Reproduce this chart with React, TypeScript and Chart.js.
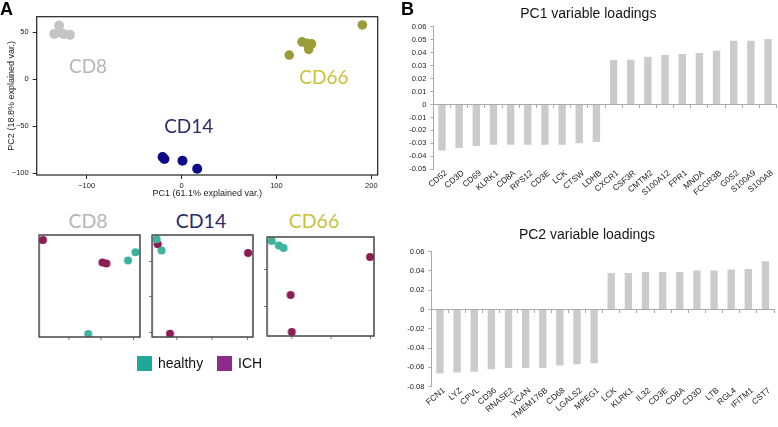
import React, { useEffect, useRef } from 'react';
import { Chart, registerables } from 'chart.js';
Chart.register(...registerables);

// ---------- Panel A: main PCA ----------
const cd8PC1 = [-129, -134, -124.5, -117.5, -129];
const cd8PC2 = [57, 48, 48, 47, 50];
const cd14PC1 = [-20, -18, 1, 16.5];
const cd14PC2 = [-83, -85, -87, -95.5];
const cd66PC1 = [113.5, 127, 132, 134, 137, 190.5];
const cd66PC2 = [25.5, 39.5, 38, 31.5, 37.5, 57.5];
const pcaXTicks = [-100, 0, 100, 200];
const pcaYTicks = [-100, -50, 0, 50];
const groupNames = ['CD8', 'CD14', 'CD66'];
const groupLabelPC1 = [-98.5, 7.6, 150];
const groupLabelPC2 = [12.8, -51.4, 1.6];

// ---------- Panel A: per-cell-type sub PCAs ----------
const cd8HealthyX = [0.82, 1.05, -0.41];
const cd8HealthyY = [0.75, 0.83, 0.03];
const cd8IchX = [-1.81, 0.03, 0.15];
const cd8IchY = [0.95, 0.73, 0.72];
const cd8XTicks = [-1, 0, 1];
const cd8YTicks: number[] = [];

const cd14HealthyX = [-0.57, -0.43];
const cd14HealthyY = [2.61, 2.3];
const cd14IchX = [-0.54, 2.03, -0.19];
const cd14IchY = [2.47, 2.23, -0.03];
const cd14XTicks = [0, 1, 2];
const cd14YTicks = [0, 1, 2];

const cd66HealthyX = [-0.51, -0.33, -0.21];
const cd66HealthyY = [1.78, 1.66, 1.59];
const cd66IchX = [2.0, -0.03, 0];
const cd66IchY = [1.34, 0.3, -0.71];
const cd66XTicks = [0, 1, 2];
const cd66YTicks = [0, 1];

const legendLabels = ['healthy', 'ICH'];

// ---------- Panel B: loadings ----------
const pc1Genes = ['CD52', 'CD3D', 'CD69', 'KLRK1', 'CD8A', 'RPS12', 'CD3E', 'LCK', 'CTSW', 'LDHB', 'CXCR1', 'CSF3R', 'CMTM2', 'S100A12', 'FPR1', 'MNDA', 'FCGR3B', 'G0S2', 'S100A9', 'S100A8'];
const pc1Loadings = [-0.0355, -0.0335, -0.032, -0.031, -0.031, -0.031, -0.031, -0.031, -0.030, -0.029, 0.0344, 0.0346, 0.0369, 0.0382, 0.039, 0.0397, 0.0415, 0.0492, 0.0492, 0.0505];
const pc2Genes = ['FCN1', 'LYZ', 'CPVL', 'CD36', 'RNASE2', 'VCAN', 'TMEM176B', 'CD68', 'LGALS2', 'MPEG1', 'LCK', 'KLRK1', 'IL32', 'CD3E', 'CD8A', 'CD3D', 'LTB', 'RGL4', 'IFITM1', 'CST7'];
const pc2Loadings = [-0.0663, -0.0653, -0.0646, -0.062, -0.0605, -0.0605, -0.0605, -0.058, -0.0568, -0.0558, 0.038, 0.038, 0.039, 0.039, 0.039, 0.0405, 0.0405, 0.0415, 0.042, 0.050];

const SANS = 'Liberation Sans';
const LABEL_FONT = 'Lato';
const groupColors = ['#b5b5b5', '#2b2b6e', '#c9c23d'];
const pointColors = ['#c4c4c4', '#0b0b8a', '#9d9b37'];
const healthyColor = '#3cb39f';
const ichColor = '#8b1d52';

const framePlugin = {
  id: 'frame',
  afterDraw(chart: any, _args: any, opts: any) {
    if (!opts || !opts.color) return;
    const { ctx, chartArea: a } = chart;
    ctx.save();
    ctx.strokeStyle = opts.color;
    ctx.lineWidth = opts.width || 1;
    ctx.strokeRect(a.left, a.top, a.right - a.left, a.bottom - a.top);
    ctx.restore();
  },
};

const groupLabelPlugin = {
  id: 'groupLabels',
  afterDatasetsDraw(chart: any) {
    const { ctx, scales } = chart;
    ctx.save();
    ctx.font = `19px ${LABEL_FONT}`;
    ctx.textAlign = 'center';
    ctx.textBaseline = 'middle';
    groupNames.forEach((t, i) => {
      ctx.fillStyle = groupColors[i];
      ctx.fillText(t, scales.x.getPixelForValue(groupLabelPC1[i]), scales.y.getPixelForValue(groupLabelPC2[i]));
    });
    ctx.restore();
  },
};

const minus = (v: any) => String(v).replace('-', '\u2212');

function mainConfig(): any {
  const pts = (xs: number[], ys: number[]) => xs.map((x, i) => ({ x, y: ys[i] }));
  const tickFont = { family: SANS, size: 7.5 };
  return {
    type: 'scatter',
    data: {
      datasets: [
        { label: 'CD8', data: pts(cd8PC1, cd8PC2), backgroundColor: pointColors[0], pointRadius: 5, borderWidth: 0 },
        { label: 'CD14', data: pts(cd14PC1, cd14PC2), backgroundColor: pointColors[1], pointRadius: 5, borderWidth: 0 },
        { label: 'CD66', data: pts(cd66PC1, cd66PC2), backgroundColor: pointColors[2], pointRadius: 4.8, borderWidth: 0 },
      ],
    },
    options: {
      animation: false,
      responsive: false,
      layout: { padding: { top: 16.7, right: 12.3, left: 0, bottom: 0 } },
      plugins: { legend: { display: false }, tooltip: { enabled: false }, frame: { color: '#222', width: 1.2 } },
      scales: {
        x: {
          type: 'linear', min: -152.6, max: 206.7,
          afterBuildTicks: (a: any) => { a.ticks = pcaXTicks.map((v) => ({ value: v })); },
          ticks: { color: '#222', font: tickFont, padding: 2, callback: minus },
          grid: { drawOnChartArea: false, tickLength: 4, color: '#222' },
          border: { display: false },
          title: { display: true, text: 'PC1 (61.1% explained var.)', color: '#222', font: { family: SANS, size: 9 }, padding: { top: 0, bottom: 5.6 } },
          afterFit: (s: any) => { s.height = 30; },
        },
        y: {
          type: 'linear', min: -102.1, max: 66.3,
          afterBuildTicks: (a: any) => { a.ticks = pcaYTicks.map((v) => ({ value: v })); },
          ticks: { color: '#222', font: tickFont, padding: 4, callback: minus },
          grid: { drawOnChartArea: false, tickLength: 4, color: '#222' },
          border: { display: false },
          title: { display: true, text: 'PC2 (18.8% explained var.)', color: '#222', font: { family: SANS, size: 9 }, padding: { top: 6.6, bottom: 0 } },
          afterFit: (s: any) => { s.width = 36.7; },
        },
      },
    },
    plugins: [framePlugin, groupLabelPlugin],
  };
}

function subConfig(hx: number[], hy: number[], ix: number[], iy: number[], xr: number[], yr: number[], xt: number[], yt: number[]): any {
  const pts = (xs: number[], ys: number[]) => xs.map((x, i) => ({ x, y: ys[i] }));
  const axis = (range: number[], ticks: number[], isX: boolean) => ({
    type: 'linear', min: range[0], max: range[1],
    afterBuildTicks: (a: any) => { a.ticks = ticks.map((v) => ({ value: v })); },
    ticks: { display: false },
    grid: { display: ticks.length > 0, drawOnChartArea: false, tickLength: 3, color: '#777' },
    border: { display: false },
    afterFit: (s: any) => { if (isX) s.height = 8; else s.width = 12; },
  });
  return {
    type: 'scatter',
    data: {
      datasets: [
        { label: legendLabels[0], data: pts(hx, hy), backgroundColor: healthyColor, pointRadius: 4, borderWidth: 0 },
        { label: legendLabels[1], data: pts(ix, iy), backgroundColor: ichColor, pointRadius: 4, borderWidth: 0 },
      ],
    },
    options: {
      animation: false,
      responsive: false,
      layout: { padding: { top: 6, right: 6, left: 0, bottom: 0 } },
      plugins: { legend: { display: false }, tooltip: { enabled: false }, frame: { color: '#444', width: 1.5 } },
      scales: { x: axis(xr, xt, true), y: axis(yr, yt, false) },
    },
    plugins: [framePlugin],
  };
}

type BarLayout = { w: number; h: number; areaLeft: number; areaTop: number; areaRight: number; areaBottom: number; titleCenter: number };

function barConfig(labels: string[], values: number[], yMin: number, yMax: number, yStep: number, title: string, L: BarLayout): any {
  const titleSize = 14;
  const titleLH = titleSize * 1.2;
  const padTop = L.titleCenter - titleLH / 2;
  const padBottom = L.areaTop - padTop - titleLH;
  const tickFont = { family: SANS, size: 7.5 };
  return {
    type: 'bar',
    data: { labels, datasets: [{ data: values, backgroundColor: '#cbcbcb', barPercentage: 0.43, categoryPercentage: 1 }] },
    options: {
      animation: false,
      responsive: false,
      layout: { padding: { left: 0, top: 0, right: L.w - L.areaRight, bottom: 0 } },
      plugins: {
        legend: { display: false },
        tooltip: { enabled: false },
        title: { display: true, text: title, color: '#151515', font: { family: SANS, size: titleSize, weight: 'normal', lineHeight: 1.2 }, padding: { top: padTop, bottom: padBottom } },
      },
      scales: {
        x: {
          type: 'category', position: 'bottom', offset: true,
          grid: { display: false }, border: { display: false },
          ticks: { autoSkip: false, minRotation: 40, maxRotation: 40, padding: -9, labelOffset: 4, color: '#222', font: { family: SANS, size: 8.3 } },
          afterFit: (s: any) => { s.height = L.h - L.areaBottom; },
        },
        x2: {
          type: 'category', position: { y: 0 }, offset: true,
          grid: { display: true, offset: true, drawOnChartArea: false, drawTicks: true, tickLength: 3, color: '#aaa' },
          border: { display: true, color: '#aaa' },
          ticks: { display: false },
          afterFit: (s: any) => { s.height = 0; },
        },
        y: {
          min: yMin, max: yMax,
          ticks: { stepSize: yStep, color: '#222', font: tickFont, padding: 4, callback: (v: any) => (Math.abs(Number(v)) < 1e-9 ? '0' : Number(v).toFixed(2)) },
          grid: { drawOnChartArea: false, drawTicks: true, tickLength: 3, color: '#aaa' },
          border: { display: true, color: '#aaa' },
          afterFit: (s: any) => { s.width = L.areaLeft; },
        },
      },
    },
  };
}

function ChartBox({ left, top, width, height, make }: { left: number; top: number; width: number; height: number; make: () => any }) {
  const ref = useRef<HTMLCanvasElement>(null);
  useEffect(() => {
    const chart = new Chart(ref.current as HTMLCanvasElement, make());
    return () => chart.destroy();
  }, []);
  return <canvas ref={ref} width={width} height={height} style={{ position: 'absolute', left, top, width, height }} />;
}

function SubChart({ box, make }: { box: number[]; make: () => any }) {
  const [x0, y0, x1, y1] = box;
  return <ChartBox left={x0 - 12} top={y0 - 6} width={x1 - x0 + 18} height={y1 - y0 + 14} make={make} />;
}

export default function App() {
  const titleStyle = (cx: number, color: string): React.CSSProperties => ({
    position: 'absolute', left: cx - 50, top: 211, width: 100, textAlign: 'center',
    font: `19.5px/20px ${LABEL_FONT}`, color,
  });
  const legText: React.CSSProperties = { position: 'absolute', top: 356, font: `14px/14px '${SANS}'`, color: '#111' };
  return (
    <div style={{ position: 'absolute', left: 0, top: 0, width: 778, height: 427, overflow: 'hidden', background: '#fff' }}>
      <ChartBox left={0} top={0} width={390} height={205} make={mainConfig} />
      <div style={titleStyle(88, groupColors[0])}>{groupNames[0]}</div>
      <div style={titleStyle(201, groupColors[1])}>{groupNames[1]}</div>
      <div style={titleStyle(314, groupColors[2])}>{groupNames[2]}</div>
      <SubChart box={[39.3, 235.3, 140, 337.3]} make={() => subConfig(cd8HealthyX, cd8HealthyY, cd8IchX, cd8IchY, [-1.93, 1.19], [0, 1], cd8XTicks, cd8YTicks)} />
      <SubChart box={[152.3, 234.7, 252.7, 337.3]} make={() => subConfig(cd14HealthyX, cd14HealthyY, cd14IchX, cd14IchY, [-0.7, 2.17], [-0.12, 2.73], cd14XTicks, cd14YTicks)} />
      <SubChart box={[267.3, 237, 374, 336.3]} make={() => subConfig(cd66HealthyX, cd66HealthyY, cd66IchX, cd66IchY, [-0.63, 2.1], [-0.82, 1.89], cd66XTicks, cd66YTicks)} />
      <div style={{ position: 'absolute', left: 137, top: 356, width: 15, height: 15, background: '#1fa898' }} />
      <div style={{ ...legText, left: 158 }}>{legendLabels[0]}</div>
      <div style={{ position: 'absolute', left: 217, top: 356, width: 15, height: 15, background: '#8e2a8b' }} />
      <div style={{ ...legText, left: 238 }}>{legendLabels[1]}</div>
      <ChartBox left={400} top={0} width={402} height={215} make={() => barConfig(pc1Genes, pc1Loadings, -0.05, 0.06, 0.01, 'PC1 variable loadings', { w: 402, h: 215, areaLeft: 33.4, areaTop: 26.7, areaRight: 376.6, areaBottom: 169.3, titleCenter: 14 })} />
      <ChartBox left={400} top={215} width={400} height={212} make={() => barConfig(pc2Genes, pc2Loadings, -0.08, 0.06, 0.02, 'PC2 variable loadings', { w: 400, h: 212, areaLeft: 31.4, areaTop: 36.7, areaRight: 374, areaBottom: 171.7, titleCenter: 20 })} />
      <div style={{ position: 'absolute', left: 0, top: 0, font: `bold 18px/18px '${SANS}'`, color: '#000' }}>A</div>
      <div style={{ position: 'absolute', left: 401, top: 0, font: `bold 18px/18px '${SANS}'`, color: '#000' }}>B</div>
    </div>
  );
}
